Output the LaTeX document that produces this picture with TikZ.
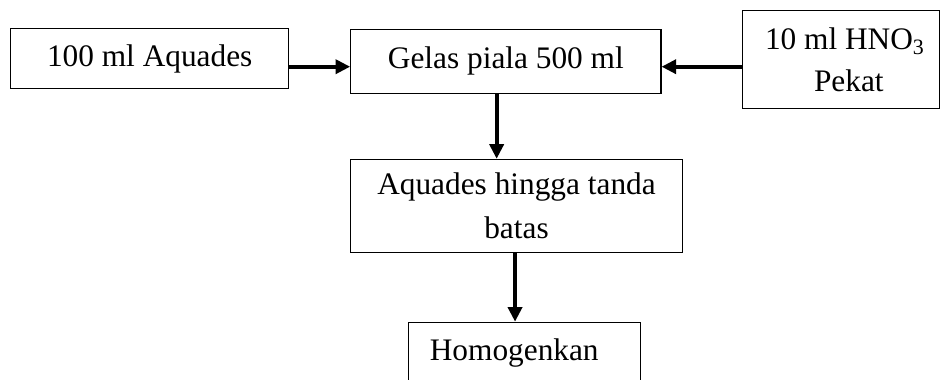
\documentclass[tikz,border=0pt]{standalone}
\usepackage{fontspec}
\setmainfont{Liberation Serif}
\usetikzlibrary{arrows.meta}
\begin{document}
\begin{tikzpicture}[x=0.75pt,y=-0.75pt,
  box/.style={draw=black, line width=0.8pt, inner sep=0pt, align=center,
    font=\fontsize{23.5pt}{32pt}\selectfont},
  arr/.style={line width=2.8pt, -{Triangle[length=11pt,width=10.5pt]}}]
\useasboundingbox (0,0) rectangle (941,379);
\node[box, minimum width=208.5pt, minimum height=45pt] (b1) at (149.7,58.7) {100 ml Aquades};
\node[box, minimum width=232.7pt, minimum height=48pt] (b2) at (505.85,61.3) {Gelas piala 500 ml};
\node[box, minimum width=147.75pt, minimum height=73.5pt,
  font=\fontsize{23.5pt}{31.3pt}\selectfont] (b3) at (840.8,59.7) {\hspace*{6pt}10 ml HNO\textsubscript{3}\\\hspace*{12pt}Pekat};
\node[box, minimum width=248.7pt, minimum height=70pt,
  font=\fontsize{23.5pt}{33pt}\selectfont] (b4) at (516.5,206) {Aquades hingga tanda\\batas};
\node[box, anchor=north west, minimum width=174pt, text width=142.5pt, align=left,
  inner xsep=15.75pt, inner ysep=12.7pt, text height=16pt, text depth=5pt] (b5) at (408.3,321.7) {Homogenkan};
\draw[arr] ([yshift=-6pt]b1.east) coordinate (a1) -- (a1 -| b2.west);
\draw[arr] ([yshift=-5.25pt]b3.west) coordinate (a3) -- (a3 -| b2.east);
\draw[arr] ([xshift=-6.9pt]b2.south) coordinate (a2) -- (a2 |- b4.north);
\draw[arr] ([xshift=-1.1pt]b4.south) coordinate (a4) -- (a4 |- b5.north);
\end{tikzpicture}
\end{document}
